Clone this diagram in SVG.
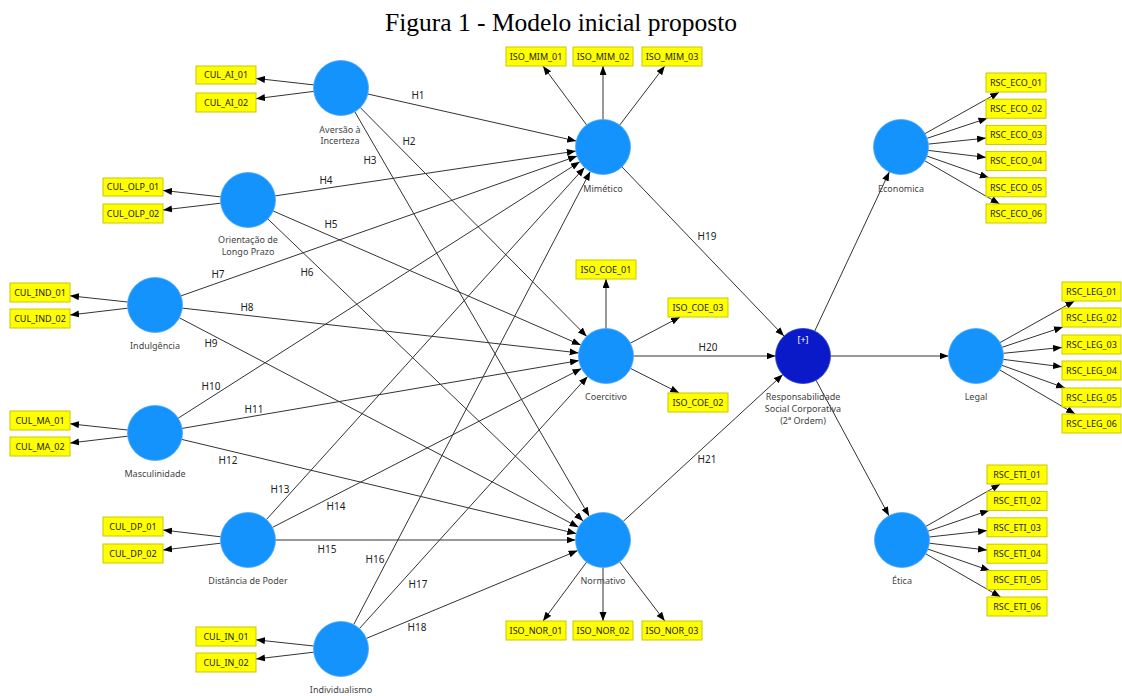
<svg xmlns="http://www.w3.org/2000/svg" width="1122" height="696" viewBox="0 0 1122 696">
<defs>
<marker id="arr" markerUnits="userSpaceOnUse" markerWidth="10" markerHeight="8" refX="9" refY="3.5" orient="auto">
<path d="M0,0 L9,3.5 L0,7 z" fill="#000"/>
</marker>
<style>
.title{font-family:"Liberation Serif","Times New Roman",serif;font-size:25.5px;fill:#000;text-anchor:middle}
#connectors line{stroke:#333;stroke-width:1;marker-end:url(#arr)}
.lv{fill:#1593fd;stroke:#4aa8ff;stroke-width:0.8}
.hi{fill:#0a1ac8;stroke:#2a3ad8;stroke-width:0.8}
.nl{font-family:"Noto Sans","DejaVu Sans",sans-serif;font-size:9px;fill:#444;text-anchor:middle}
.hl{font-family:"Noto Sans","DejaVu Sans",sans-serif;font-size:10px;fill:#222;text-anchor:middle}
.ind rect{fill:#ffff00;stroke:#c8c800;stroke-width:1}
.ind text{font-family:"Noto Sans","DejaVu Sans",sans-serif;font-size:9px;fill:#222;text-anchor:middle}
.plus{font-family:"Noto Sans","DejaVu Sans",sans-serif;font-size:9px;fill:#fff;text-anchor:middle}
</style>
</defs>
<rect width="1122" height="696" fill="#fff"/>
<text class="title" x="561" y="31">Figura 1 - Modelo inicial proposto</text>

<g id="connectors">
<!-- indicators -->
<line x1="313.7" y1="84.9" x2="256" y2="78.4"/>
<line x1="313.7" y1="91.4" x2="256" y2="98.7"/>
<line x1="220.7" y1="196.9" x2="163" y2="190.4"/>
<line x1="220.7" y1="203.2" x2="163" y2="210"/>
<line x1="127.7" y1="302" x2="70" y2="295.8"/>
<line x1="127.7" y1="308.2" x2="70" y2="315"/>
<line x1="127.7" y1="430" x2="70" y2="423.8"/>
<line x1="127.7" y1="436.2" x2="70" y2="443"/>
<line x1="220.7" y1="536.8" x2="163" y2="530"/>
<line x1="220.7" y1="543.2" x2="163" y2="550"/>
<line x1="313.7" y1="646" x2="256" y2="639.8"/>
<line x1="313.7" y1="652.2" x2="256" y2="659"/>
<line x1="586.6" y1="124.9" x2="543" y2="66"/>
<line x1="603" y1="119.5" x2="603" y2="66"/>
<line x1="619.7" y1="125.1" x2="664.8" y2="66"/>
<line x1="606" y1="328.5" x2="606" y2="279"/>
<line x1="630.3" y1="343.2" x2="680" y2="317"/>
<line x1="630.5" y1="368.4" x2="679.2" y2="393"/>
<line x1="586.6" y1="562.1" x2="543" y2="621"/>
<line x1="603" y1="567.5" x2="603" y2="621"/>
<line x1="619.7" y1="561.9" x2="664.8" y2="621"/>
<line x1="925" y1="133.6" x2="999.1" y2="92.2"/>
<line x1="927.1" y1="138.3" x2="987.5" y2="118.2"/>
<line x1="928.4" y1="144.1" x2="986" y2="138.1"/>
<line x1="928.3" y1="150.4" x2="986" y2="157.4"/>
<line x1="927" y1="156.1" x2="988.9" y2="177.8"/>
<line x1="924.8" y1="160.8" x2="999.6" y2="204"/>
<line x1="1000" y1="342.6" x2="1074.5" y2="301"/>
<line x1="1002.1" y1="347.3" x2="1063" y2="327"/>
<line x1="1003.4" y1="353.3" x2="1062" y2="347.4"/>
<line x1="1003.3" y1="359.4" x2="1062" y2="366.8"/>
<line x1="1001.9" y1="365.3" x2="1065.1" y2="388"/>
<line x1="999.7" y1="369.9" x2="1075.2" y2="414"/>
<line x1="925.9" y1="526.4" x2="1000.3" y2="484"/>
<line x1="928" y1="531.2" x2="989.1" y2="510.4"/>
<line x1="929.3" y1="537" x2="987" y2="530.6"/>
<line x1="929.3" y1="543.2" x2="987" y2="550.1"/>
<line x1="928" y1="549.1" x2="989.8" y2="570.6"/>
<line x1="925.8" y1="553.8" x2="1000.6" y2="597"/>
<!-- structural -->
<line x1="367.8" y1="94" x2="576.2" y2="141"/>
<line x1="360.3" y1="107.6" x2="586.7" y2="336.4"/>
<line x1="354.8" y1="111.8" x2="589.2" y2="516.2"/>
<line x1="275.2" y1="195.9" x2="575.8" y2="151.1"/>
<line x1="273.2" y1="211" x2="580.8" y2="345"/>
<line x1="267.9" y1="219" x2="583.1" y2="521"/>
<line x1="180.9" y1="295.9" x2="577.1" y2="156.1"/>
<line x1="182.3" y1="308.1" x2="578.7" y2="352.9"/>
<line x1="179.4" y1="317.8" x2="578.6" y2="527.2"/>
<line x1="178.2" y1="418.2" x2="579.8" y2="161.8"/>
<line x1="182.1" y1="428.4" x2="578.9" y2="360.6"/>
<line x1="181.7" y1="439.4" x2="576.3" y2="533.6"/>
<line x1="266.4" y1="519.6" x2="584.6" y2="167.4"/>
<line x1="272.5" y1="527.4" x2="581.5" y2="368.6"/>
<line x1="275.5" y1="540" x2="575.5" y2="540"/>
<line x1="353.7" y1="624.6" x2="590.3" y2="171.4"/>
<line x1="359.4" y1="628.6" x2="587.6" y2="376.4"/>
<line x1="366.4" y1="638.4" x2="577.6" y2="550.6"/>
<line x1="622" y1="166.9" x2="784" y2="336.1"/>
<line x1="633.5" y1="356" x2="775.5" y2="356"/>
<line x1="623.2" y1="521.4" x2="782.8" y2="374.6"/>
<line x1="814.7" y1="331.1" x2="889.3" y2="171.9"/>
<line x1="830.5" y1="356" x2="948.5" y2="356"/>
<line x1="816" y1="380.2" x2="889" y2="515.8"/>
</g>

<g id="path-labels">
<text class="hl" x="418" y="99">H1</text>
<text class="hl" x="409" y="145">H2</text>
<text class="hl" x="370" y="164">H3</text>
<text class="hl" x="326" y="184">H4</text>
<text class="hl" x="331" y="228">H5</text>
<text class="hl" x="307" y="276">H6</text>
<text class="hl" x="218" y="278">H7</text>
<text class="hl" x="247" y="311">H8</text>
<text class="hl" x="211" y="347">H9</text>
<text class="hl" x="211" y="390">H10</text>
<text class="hl" x="254" y="413">H11</text>
<text class="hl" x="228" y="464">H12</text>
<text class="hl" x="280" y="493">H13</text>
<text class="hl" x="336" y="510">H14</text>
<text class="hl" x="327" y="553">H15</text>
<text class="hl" x="375" y="563">H16</text>
<text class="hl" x="418" y="588">H17</text>
<text class="hl" x="417" y="631">H18</text>
<text class="hl" x="707" y="240">H19</text>
<text class="hl" x="708" y="351">H20</text>
<text class="hl" x="707" y="463">H21</text>
</g>

<g id="node-aversao"><circle class="lv" cx="341" cy="88" r="27.5"/><text class="nl" x="340" y="132.5">Aversão à</text><text class="nl" x="340" y="144">Incerteza</text></g>
<g id="node-orientacao"><circle class="lv" cx="248" cy="200" r="27.5"/><text class="nl" x="248" y="242.5">Orientação de</text><text class="nl" x="248" y="254.5">Longo Prazo</text></g>
<g id="node-indulgencia"><circle class="lv" cx="155" cy="305" r="27.5"/><text class="nl" x="155" y="348.5">Indulgência</text></g>
<g id="node-masculinidade"><circle class="lv" cx="155" cy="433" r="27.5"/><text class="nl" x="155" y="476.5">Masculinidade</text></g>
<g id="node-distancia"><circle class="lv" cx="248" cy="540" r="27.5"/><text class="nl" x="248" y="583.5">Distância de Poder</text></g>
<g id="node-individualismo"><circle class="lv" cx="341" cy="649" r="27.5"/><text class="nl" x="341" y="693">Individualismo</text></g>
<g id="node-mimetico"><circle class="lv" cx="603" cy="147" r="27.5"/><text class="nl" x="603" y="191.5">Mimético</text></g>
<g id="node-coercitivo"><circle class="lv" cx="606" cy="356" r="27.5"/><text class="nl" x="606" y="400">Coercitivo</text></g>
<g id="node-normativo"><circle class="lv" cx="603" cy="540" r="27.5"/><text class="nl" x="603" y="584">Normativo</text></g>
<g id="node-rsc"><circle class="hi" cx="803" cy="356" r="27.5"/><text class="plus" x="803" y="343">[+]</text><text class="nl" x="803" y="400">Responsabilidade</text><text class="nl" x="803" y="411.5">Social Corporativa</text><text class="nl" x="803" y="423.5">(2ª Ordem)</text></g>
<g id="node-economica"><circle class="lv" cx="901" cy="147" r="27.5"/><text class="nl" x="901" y="191.5">Economica</text></g>
<g id="node-legal"><circle class="lv" cx="976" cy="356" r="27.5"/><text class="nl" x="976" y="400">Legal</text></g>
<g id="node-etica"><circle class="lv" cx="902" cy="540" r="27.5"/><text class="nl" x="902" y="583.5">Ética</text></g>

<g id="ind-CUL_AI_01" class="ind"><rect x="196" y="66" width="60" height="18"/><text x="226" y="78.2">CUL_AI_01</text></g>
<g id="ind-CUL_AI_02" class="ind"><rect x="196" y="93" width="60" height="19"/><text x="226" y="105.7">CUL_AI_02</text></g>
<g id="ind-CUL_OLP_01" class="ind"><rect x="103" y="178" width="60" height="18"/><text x="133" y="190.2">CUL_OLP_01</text></g>
<g id="ind-CUL_OLP_02" class="ind"><rect x="103" y="204" width="60" height="19"/><text x="133" y="216.7">CUL_OLP_02</text></g>
<g id="ind-CUL_IND_01" class="ind"><rect x="10" y="283" width="60" height="19"/><text x="40" y="295.7">CUL_IND_01</text></g>
<g id="ind-CUL_IND_02" class="ind"><rect x="10" y="309" width="60" height="19"/><text x="40" y="321.7">CUL_IND_02</text></g>
<g id="ind-CUL_MA_01" class="ind"><rect x="10" y="411" width="60" height="19"/><text x="40" y="423.7">CUL_MA_01</text></g>
<g id="ind-CUL_MA_02" class="ind"><rect x="10" y="437" width="60" height="19"/><text x="40" y="449.7">CUL_MA_02</text></g>
<g id="ind-CUL_DP_01" class="ind"><rect x="103" y="517" width="60" height="19"/><text x="133" y="529.7">CUL_DP_01</text></g>
<g id="ind-CUL_DP_02" class="ind"><rect x="103" y="544" width="60" height="19"/><text x="133" y="556.7">CUL_DP_02</text></g>
<g id="ind-CUL_IN_01" class="ind"><rect x="196" y="627" width="60" height="19"/><text x="226" y="639.7">CUL_IN_01</text></g>
<g id="ind-CUL_IN_02" class="ind"><rect x="196" y="653" width="60" height="19"/><text x="226" y="665.7">CUL_IN_02</text></g>
<g id="ind-ISO_MIM_01" class="ind"><rect x="506" y="47" width="60" height="19"/><text x="536" y="59.7">ISO_MIM_01</text></g>
<g id="ind-ISO_MIM_02" class="ind"><rect x="573" y="47" width="60" height="19"/><text x="603" y="59.7">ISO_MIM_02</text></g>
<g id="ind-ISO_MIM_03" class="ind"><rect x="642" y="47" width="60" height="19"/><text x="672" y="59.7">ISO_MIM_03</text></g>
<g id="ind-ISO_COE_01" class="ind"><rect x="576" y="260" width="60" height="19"/><text x="606" y="272.7">ISO_COE_01</text></g>
<g id="ind-ISO_COE_03" class="ind"><rect x="668" y="298" width="60" height="19"/><text x="698" y="310.7">ISO_COE_03</text></g>
<g id="ind-ISO_COE_02" class="ind"><rect x="668" y="393" width="60" height="19"/><text x="698" y="405.7">ISO_COE_02</text></g>
<g id="ind-ISO_NOR_01" class="ind"><rect x="506" y="621" width="60" height="19"/><text x="536" y="633.7">ISO_NOR_01</text></g>
<g id="ind-ISO_NOR_02" class="ind"><rect x="573" y="621" width="60" height="19"/><text x="603" y="633.7">ISO_NOR_02</text></g>
<g id="ind-ISO_NOR_03" class="ind"><rect x="642" y="621" width="60" height="19"/><text x="672" y="633.7">ISO_NOR_03</text></g>
<g id="ind-RSC_ECO_01" class="ind"><rect x="986" y="73" width="60" height="19"/><text x="1016" y="85.7">RSC_ECO_01</text></g>
<g id="ind-RSC_ECO_02" class="ind"><rect x="986" y="99.2" width="60" height="19"/><text x="1016" y="111.9">RSC_ECO_02</text></g>
<g id="ind-RSC_ECO_03" class="ind"><rect x="986" y="125.4" width="60" height="19"/><text x="1016" y="138.1">RSC_ECO_03</text></g>
<g id="ind-RSC_ECO_04" class="ind"><rect x="986" y="151.6" width="60" height="19"/><text x="1016" y="164.3">RSC_ECO_04</text></g>
<g id="ind-RSC_ECO_05" class="ind"><rect x="986" y="177.8" width="60" height="19"/><text x="1016" y="190.5">RSC_ECO_05</text></g>
<g id="ind-RSC_ECO_06" class="ind"><rect x="986" y="204" width="60" height="19"/><text x="1016" y="216.7">RSC_ECO_06</text></g>
<g id="ind-RSC_LEG_01" class="ind"><rect x="1062" y="282" width="59" height="19"/><text x="1091.5" y="294.7">RSC_LEG_01</text></g>
<g id="ind-RSC_LEG_02" class="ind"><rect x="1062" y="308" width="59" height="19"/><text x="1091.5" y="320.7">RSC_LEG_02</text></g>
<g id="ind-RSC_LEG_03" class="ind"><rect x="1062" y="335" width="59" height="19"/><text x="1091.5" y="347.7">RSC_LEG_03</text></g>
<g id="ind-RSC_LEG_04" class="ind"><rect x="1062" y="361" width="59" height="19"/><text x="1091.5" y="373.7">RSC_LEG_04</text></g>
<g id="ind-RSC_LEG_05" class="ind"><rect x="1062" y="388" width="59" height="19"/><text x="1091.5" y="400.7">RSC_LEG_05</text></g>
<g id="ind-RSC_LEG_06" class="ind"><rect x="1062" y="414" width="59" height="19"/><text x="1091.5" y="426.7">RSC_LEG_06</text></g>
<g id="ind-RSC_ETI_01" class="ind"><rect x="987" y="465" width="60" height="19"/><text x="1017" y="477.7">RSC_ETI_01</text></g>
<g id="ind-RSC_ETI_02" class="ind"><rect x="987" y="491.4" width="60" height="19"/><text x="1017" y="504.1">RSC_ETI_02</text></g>
<g id="ind-RSC_ETI_03" class="ind"><rect x="987" y="517.8" width="60" height="19"/><text x="1017" y="530.5">RSC_ETI_03</text></g>
<g id="ind-RSC_ETI_04" class="ind"><rect x="987" y="544.2" width="60" height="19"/><text x="1017" y="556.9">RSC_ETI_04</text></g>
<g id="ind-RSC_ETI_05" class="ind"><rect x="987" y="570.6" width="60" height="19"/><text x="1017" y="583.3">RSC_ETI_05</text></g>
<g id="ind-RSC_ETI_06" class="ind"><rect x="987" y="597" width="60" height="19"/><text x="1017" y="609.7">RSC_ETI_06</text></g>
</svg>
